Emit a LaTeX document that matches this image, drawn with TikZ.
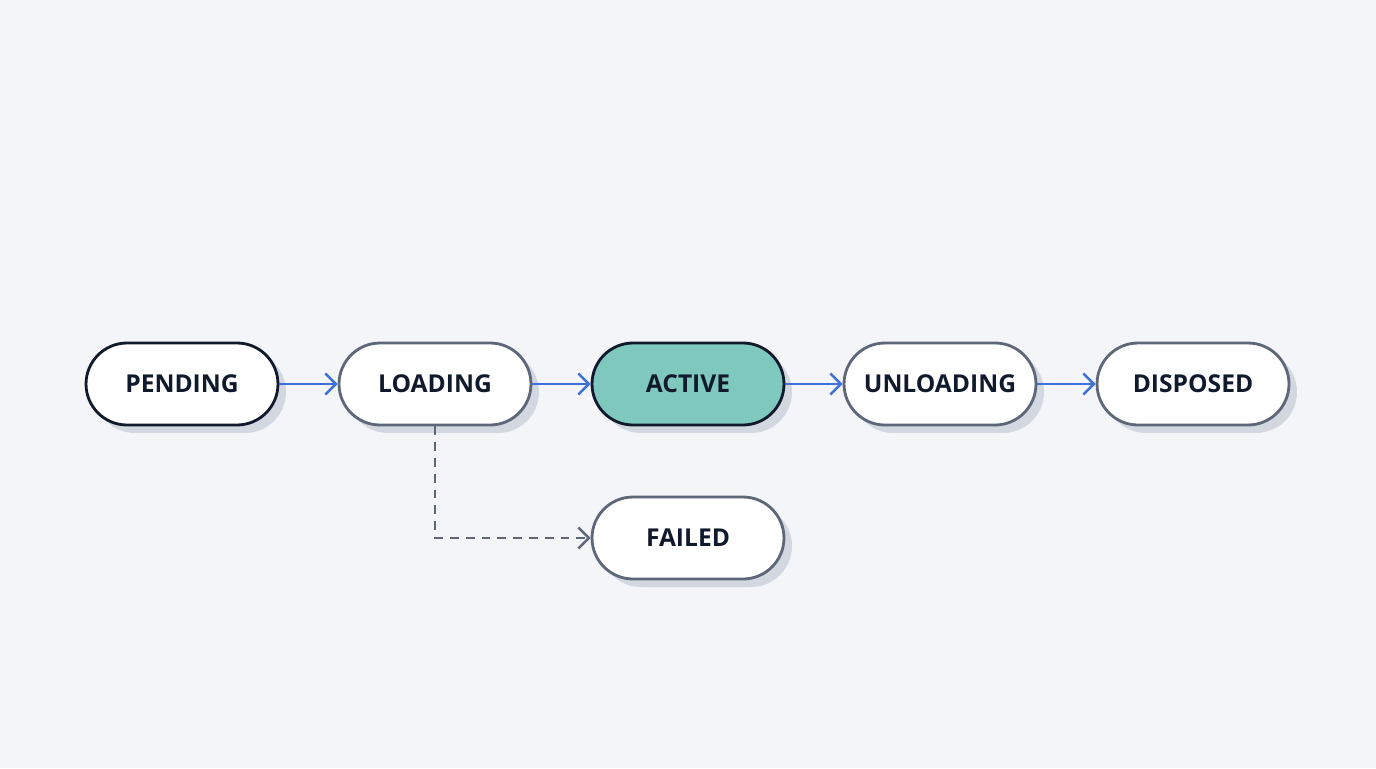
\documentclass[tikz,border=0pt]{standalone}
\usepackage{fontspec}
\setmainfont{Open Sans}
\usetikzlibrary{positioning,arrows.meta,shadows}
\definecolor{bgcol}{HTML}{F3F5F8}
\definecolor{darkline}{HTML}{111A2C}
\definecolor{greyline}{HTML}{5E6779}
\definecolor{activefill}{HTML}{7EC8BD}
\definecolor{flowblue}{HTML}{3D70DB}
\definecolor{shade}{HTML}{D3D7DF}
\tikzset{
  state/.style={draw=greyline, line width=1.6pt, fill=white, rounded corners=0.82cm,
    minimum width=3.84cm, minimum height=1.64cm, font=\fontsize{14}{16}\selectfont\bfseries,
    text=darkline, drop shadow={shadow xshift=0.16cm, shadow yshift=-0.16cm, fill=shade, opacity=1}},
  key/.style={state, draw=darkline},
  flow/.style={-{Straight Barb[length=6pt, width=12pt, line width=1.4pt]}, draw=flowblue, line width=1.4pt},
  fail/.style={-{Straight Barb[length=6pt, width=12pt, line width=1.4pt]}, draw=greyline, line width=1.4pt, dash pattern=on 5pt off 4pt}
}
\begin{document}
\begin{tikzpicture}[x=0.02cm, y=-0.02cm]
   \fill[bgcol] (0,0) rectangle (1376,768);
   \node[key] (pending) at (182,384) {PENDING};
   \node[state] (loading) at (435,384) {LOADING};
   \node[key, fill=activefill] (active) at (688,384) {ACTIVE};
   \node[state] (unloading) at (940,384) {UNLOADING};
   \node[state] (disposed) at (1193,384) {DISPOSED};
   \node[state] (failed) at (688,538) {FAILED};
   \draw[flow] (pending) -- (loading);
   \draw[flow] (loading) -- (active);
   \draw[flow] (active) -- (unloading);
   \draw[flow] (unloading) -- (disposed);
   \draw[fail] (loading.south) |- (failed.west);
\end{tikzpicture}
\end{document}
